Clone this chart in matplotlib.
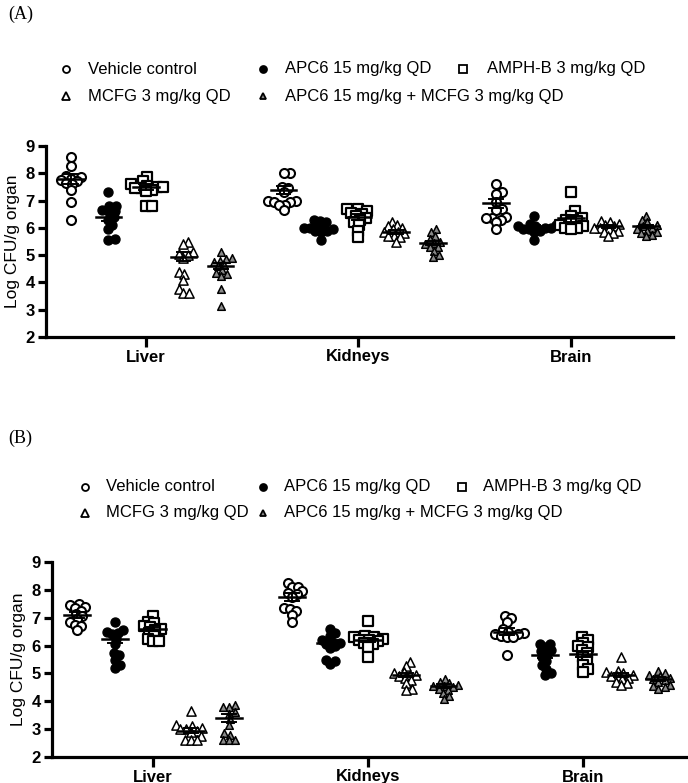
import matplotlib
matplotlib.use("Agg")
import matplotlib.pyplot as plt
from matplotlib.lines import Line2D
import numpy as np

plt.rcParams['font.family'] = ['Liberation Sans', 'DejaVu Sans']

organs = ["Liver", "Kidneys", "Brain"]
treatments = ["Vehicle control", "APC6 15 mg/kg QD", "AMPH-B 3 mg/kg QD",
              "MCFG 3 mg/kg QD", "APC6 15 mg/kg + MCFG 3 mg/kg QD"]

# panel A - individual animals, [liver, kidneys, brain]
a_vehicle = [[8.6, 8.25, 7.9, 7.85, 7.8, 7.75, 7.7, 7.65, 7.6, 7.4, 6.95, 6.3],
             [8.0, 8.0, 7.5, 7.45, 7.3, 7.0, 7.0, 6.95, 6.95, 6.85, 6.85, 6.65],
             [7.6, 7.3, 7.25, 6.95, 6.7, 6.65, 6.4, 6.35, 6.35, 6.3, 6.2, 5.95]]
a_apc6 = [[7.3, 6.8, 6.8, 6.65, 6.6, 6.6, 6.4, 6.3, 6.1, 5.95, 5.6, 5.55],
          [6.3, 6.25, 6.2, 6.1, 6.05, 6.0, 6.0, 5.95, 5.9, 5.9, 5.85, 5.55],
          [6.45, 6.15, 6.1, 6.05, 6.05, 6.0, 6.0, 5.95, 5.95, 5.9, 5.85, 5.55]]
a_amph = [[7.85, 7.7, 7.6, 7.55, 7.5, 7.5, 7.45, 7.45, 7.4, 7.35, 6.8, 6.8],
          [6.7, 6.7, 6.6, 6.55, 6.5, 6.45, 6.35, 6.3, 6.2, 6.1, 5.9, 5.65],
          [7.3, 6.6, 6.45, 6.35, 6.3, 6.25, 6.2, 6.1, 6.05, 6.0, 6.0, 5.95]]
a_mcfg = [[5.5, 5.4, 5.1, 5.05, 5.0, 4.9, 4.4, 4.3, 4.1, 3.75, 3.6, 3.6],
          [6.2, 6.1, 6.05, 6.0, 5.95, 5.85, 5.85, 5.8, 5.7, 5.7, 5.65, 5.5],
          [6.25, 6.2, 6.15, 6.1, 6.05, 6.0, 6.0, 5.95, 5.9, 5.85, 5.8, 5.7]]
a_combo = [[5.1, 4.9, 4.85, 4.8, 4.75, 4.65, 4.6, 4.45, 4.35, 4.3, 4.25, 3.75, 3.15],
           [5.95, 5.85, 5.7, 5.6, 5.5, 5.45, 5.4, 5.3, 5.3, 5.15, 5.0, 4.95],
           [6.45, 6.3, 6.2, 6.1, 6.05, 6.0, 5.95, 5.9, 5.85, 5.8, 5.75, 5.7]]
# mean and SEM as drawn, rows follow treatments
a_mean = [[7.8, 7.4, 6.9], [6.4, 6.0, 6.05], [7.5, 6.4, 6.35],
          [4.95, 5.85, 6.05], [4.6, 5.45, 6.05]]
a_sem = [[0.18, 0.15, 0.17], [0.15, 0.06, 0.06], [0.1, 0.1, 0.12],
         [0.18, 0.06, 0.05], [0.12, 0.08, 0.06]]

# panel B
b_vehicle = [[7.5, 7.45, 7.4, 7.35, 7.25, 7.15, 7.05, 6.95, 6.85, 6.75, 6.7, 6.55],
             [8.25, 8.1, 8.1, 7.95, 7.9, 7.85, 7.75, 7.35, 7.3, 7.25, 7.1, 6.85],
             [7.05, 7.0, 6.85, 6.6, 6.5, 6.45, 6.4, 6.4, 6.35, 6.3, 6.3, 5.65]]
b_apc6 = [[6.85, 6.55, 6.5, 6.45, 6.4, 6.25, 6.05, 5.75, 5.65, 5.5, 5.3, 5.2],
          [6.6, 6.45, 6.35, 6.2, 6.15, 6.1, 6.05, 6.0, 5.9, 5.5, 5.45, 5.35],
          [6.05, 6.05, 5.95, 5.85, 5.8, 5.7, 5.6, 5.45, 5.3, 5.15, 5.0, 4.95]]
b_amph = [[7.05, 6.85, 6.8, 6.7, 6.65, 6.6, 6.55, 6.45, 6.35, 6.25, 6.15, 6.15],
          [6.9, 6.35, 6.3, 6.3, 6.25, 6.2, 6.2, 6.15, 6.1, 6.05, 5.95, 5.6],
          [6.3, 6.2, 6.1, 6.0, 5.95, 5.85, 5.75, 5.6, 5.45, 5.3, 5.15, 5.05]]
b_mcfg = [[3.65, 3.15, 3.1, 3.05, 3.0, 3.0, 2.95, 2.9, 2.75, 2.6, 2.6, 2.6],
          [5.4, 5.25, 5.05, 5.0, 4.95, 4.95, 4.9, 4.85, 4.75, 4.65, 4.45, 4.4],
          [5.6, 5.1, 5.05, 5.0, 4.95, 4.9, 4.9, 4.85, 4.8, 4.7, 4.65, 4.6]]
b_combo = [[3.85, 3.8, 3.8, 3.6, 3.55, 3.35, 3.15, 2.85, 2.8, 2.6, 2.6, 2.6],
           [4.8, 4.7, 4.65, 4.6, 4.55, 4.55, 4.5, 4.45, 4.4, 4.3, 4.2, 4.1],
           [5.1, 5.0, 4.95, 4.9, 4.85, 4.8, 4.75, 4.7, 4.6, 4.55, 4.5, 4.45]]
b_mean = [[7.1, 7.75, 6.5], [6.25, 6.1, 5.65], [6.6, 6.2, 5.7],
          [2.95, 4.95, 4.95], [3.4, 4.55, 4.8]]
b_sem = [[0.1, 0.15, 0.12], [0.15, 0.1, 0.1], [0.08, 0.08, 0.12],
         [0.08, 0.08, 0.08], [0.15, 0.06, 0.06]]

# marker styles per treatment
styles = [dict(marker='o', facecolor='white', edgecolor='black', s=42, lw=1.5),
          dict(marker='o', facecolor='black', edgecolor='black', s=42, lw=1.0),
          dict(marker='s', facecolor='white', edgecolor='black', s=44, lw=1.6),
          dict(marker='^', facecolor='white', edgecolor='black', s=44, lw=1.1),
          dict(marker='^', facecolor='#8a8a8a', edgecolor='black', s=30, lw=1.1)]

group_off = (np.arange(5) - 2) * 0.176


def swarm(vals, x0, xpx=212.0, ypx=27.4, d=5.5):
    # simple beeswarm: push each point sideways until it doesn't overlap
    vals = np.asarray(vals)
    xs = np.zeros(len(vals))
    placed = []
    for i in np.argsort(vals):
        y = vals[i] * ypx
        for k in range(60):
            cands = [0.0] if k == 0 else [k * 1.0, -k * 1.0]
            hit = None
            for c in cands:
                if all((c - px) ** 2 + (y - py) ** 2 >= d * d for px, py in placed):
                    hit = c
                    break
            if hit is not None:
                break
        xs[i] = hit
        placed.append((hit, y))
    return x0 + xs / xpx


def draw_panel(ax, data, means, sems):
    for t in range(5):
        for o in range(3):
            x0 = o + group_off[t]
            vals = data[t][o]
            xs = swarm(vals, x0)
            st = styles[t]
            ax.scatter(xs, vals, marker=st['marker'], s=st['s'], facecolor=st['facecolor'],
                       edgecolor=st['edgecolor'], linewidths=st['lw'], zorder=3)
            m = means[t][o]
            e = sems[t][o]
            ax.plot([x0 - 0.06, x0 + 0.06], [m, m], color='black', lw=1.8, zorder=4)
            ax.plot([x0, x0], [m - e, m + e], color='black', lw=1.4, zorder=4)
            for yy in (m - e, m + e):
                ax.plot([x0 - 0.032, x0 + 0.032], [yy, yy], color='black', lw=1.4, zorder=4)
    ax.set_xlim(-0.47, 2.48)
    ax.set_ylim(2, 9)
    ax.set_yticks(range(2, 10))
    ax.set_xticks(range(3))
    ax.set_xticklabels(organs, fontweight='bold', fontsize=12)
    for lab in ax.get_yticklabels():
        lab.set_fontweight('bold')
        lab.set_fontsize(12)
    ax.spines['top'].set_visible(False)
    ax.spines['right'].set_visible(False)
    ax.spines['left'].set_linewidth(2.3)
    ax.spines['bottom'].set_linewidth(2.3)
    ax.tick_params(axis='y', length=6, width=2.3, pad=2)
    ax.tick_params(axis='x', length=7, width=2.3, pad=2)
    ax.set_ylabel("Log CFU/g organ", fontsize=12.5, labelpad=4)


f = plt.figure(figsize=(6.88, 7.83), dpi=100)
W, H = 688.0, 783.0

axA = f.add_axes([46 / W, 1 - 337 / H, 627 / W, 191 / H])
axB = f.add_axes([52 / W, 1 - 757 / H, 634 / W, 195 / H])
draw_panel(axA, [a_vehicle, a_apc6, a_amph, a_mcfg, a_combo], a_mean, a_sem)
draw_panel(axB, [b_vehicle, b_apc6, b_amph, b_mcfg, b_combo], b_mean, b_sem)

f.text(8 / W, 1 - 14 / H, "(A)", family='Liberation Serif', fontsize=13, va='center')
f.text(8 / W, 1 - 438 / H, "(B)", family='Liberation Serif', fontsize=13, va='center')

# legends, laid out as in the figure: 3 entries on top row, 2 below
leg_ms = [5, 5, 5.5, 5.5, 4.5]
leg_slots = [(0, 0), (1, 0), (2, 0), (0, 1), (1, 1)]


def draw_legend(mark_x, text_x, rows):
    for t in range(5):
        c, r = leg_slots[t]
        st = styles[t]
        y = 1 - rows[r] / H
        f.add_artist(Line2D([mark_x[c] / W], [y], marker=st['marker'], markersize=leg_ms[t],
                            markerfacecolor=st['facecolor'], markeredgecolor='black',
                            markeredgewidth=1.3, linestyle='none'))
        f.text(text_x[c] / W, y, treatments[t], fontsize=12, va='center')


draw_legend([66, 263, 463], [88, 285, 487], [69, 96])
draw_legend([85, 263, 462], [106, 284, 483], [487, 513])

f.savefig("out.png", dpi=100)
